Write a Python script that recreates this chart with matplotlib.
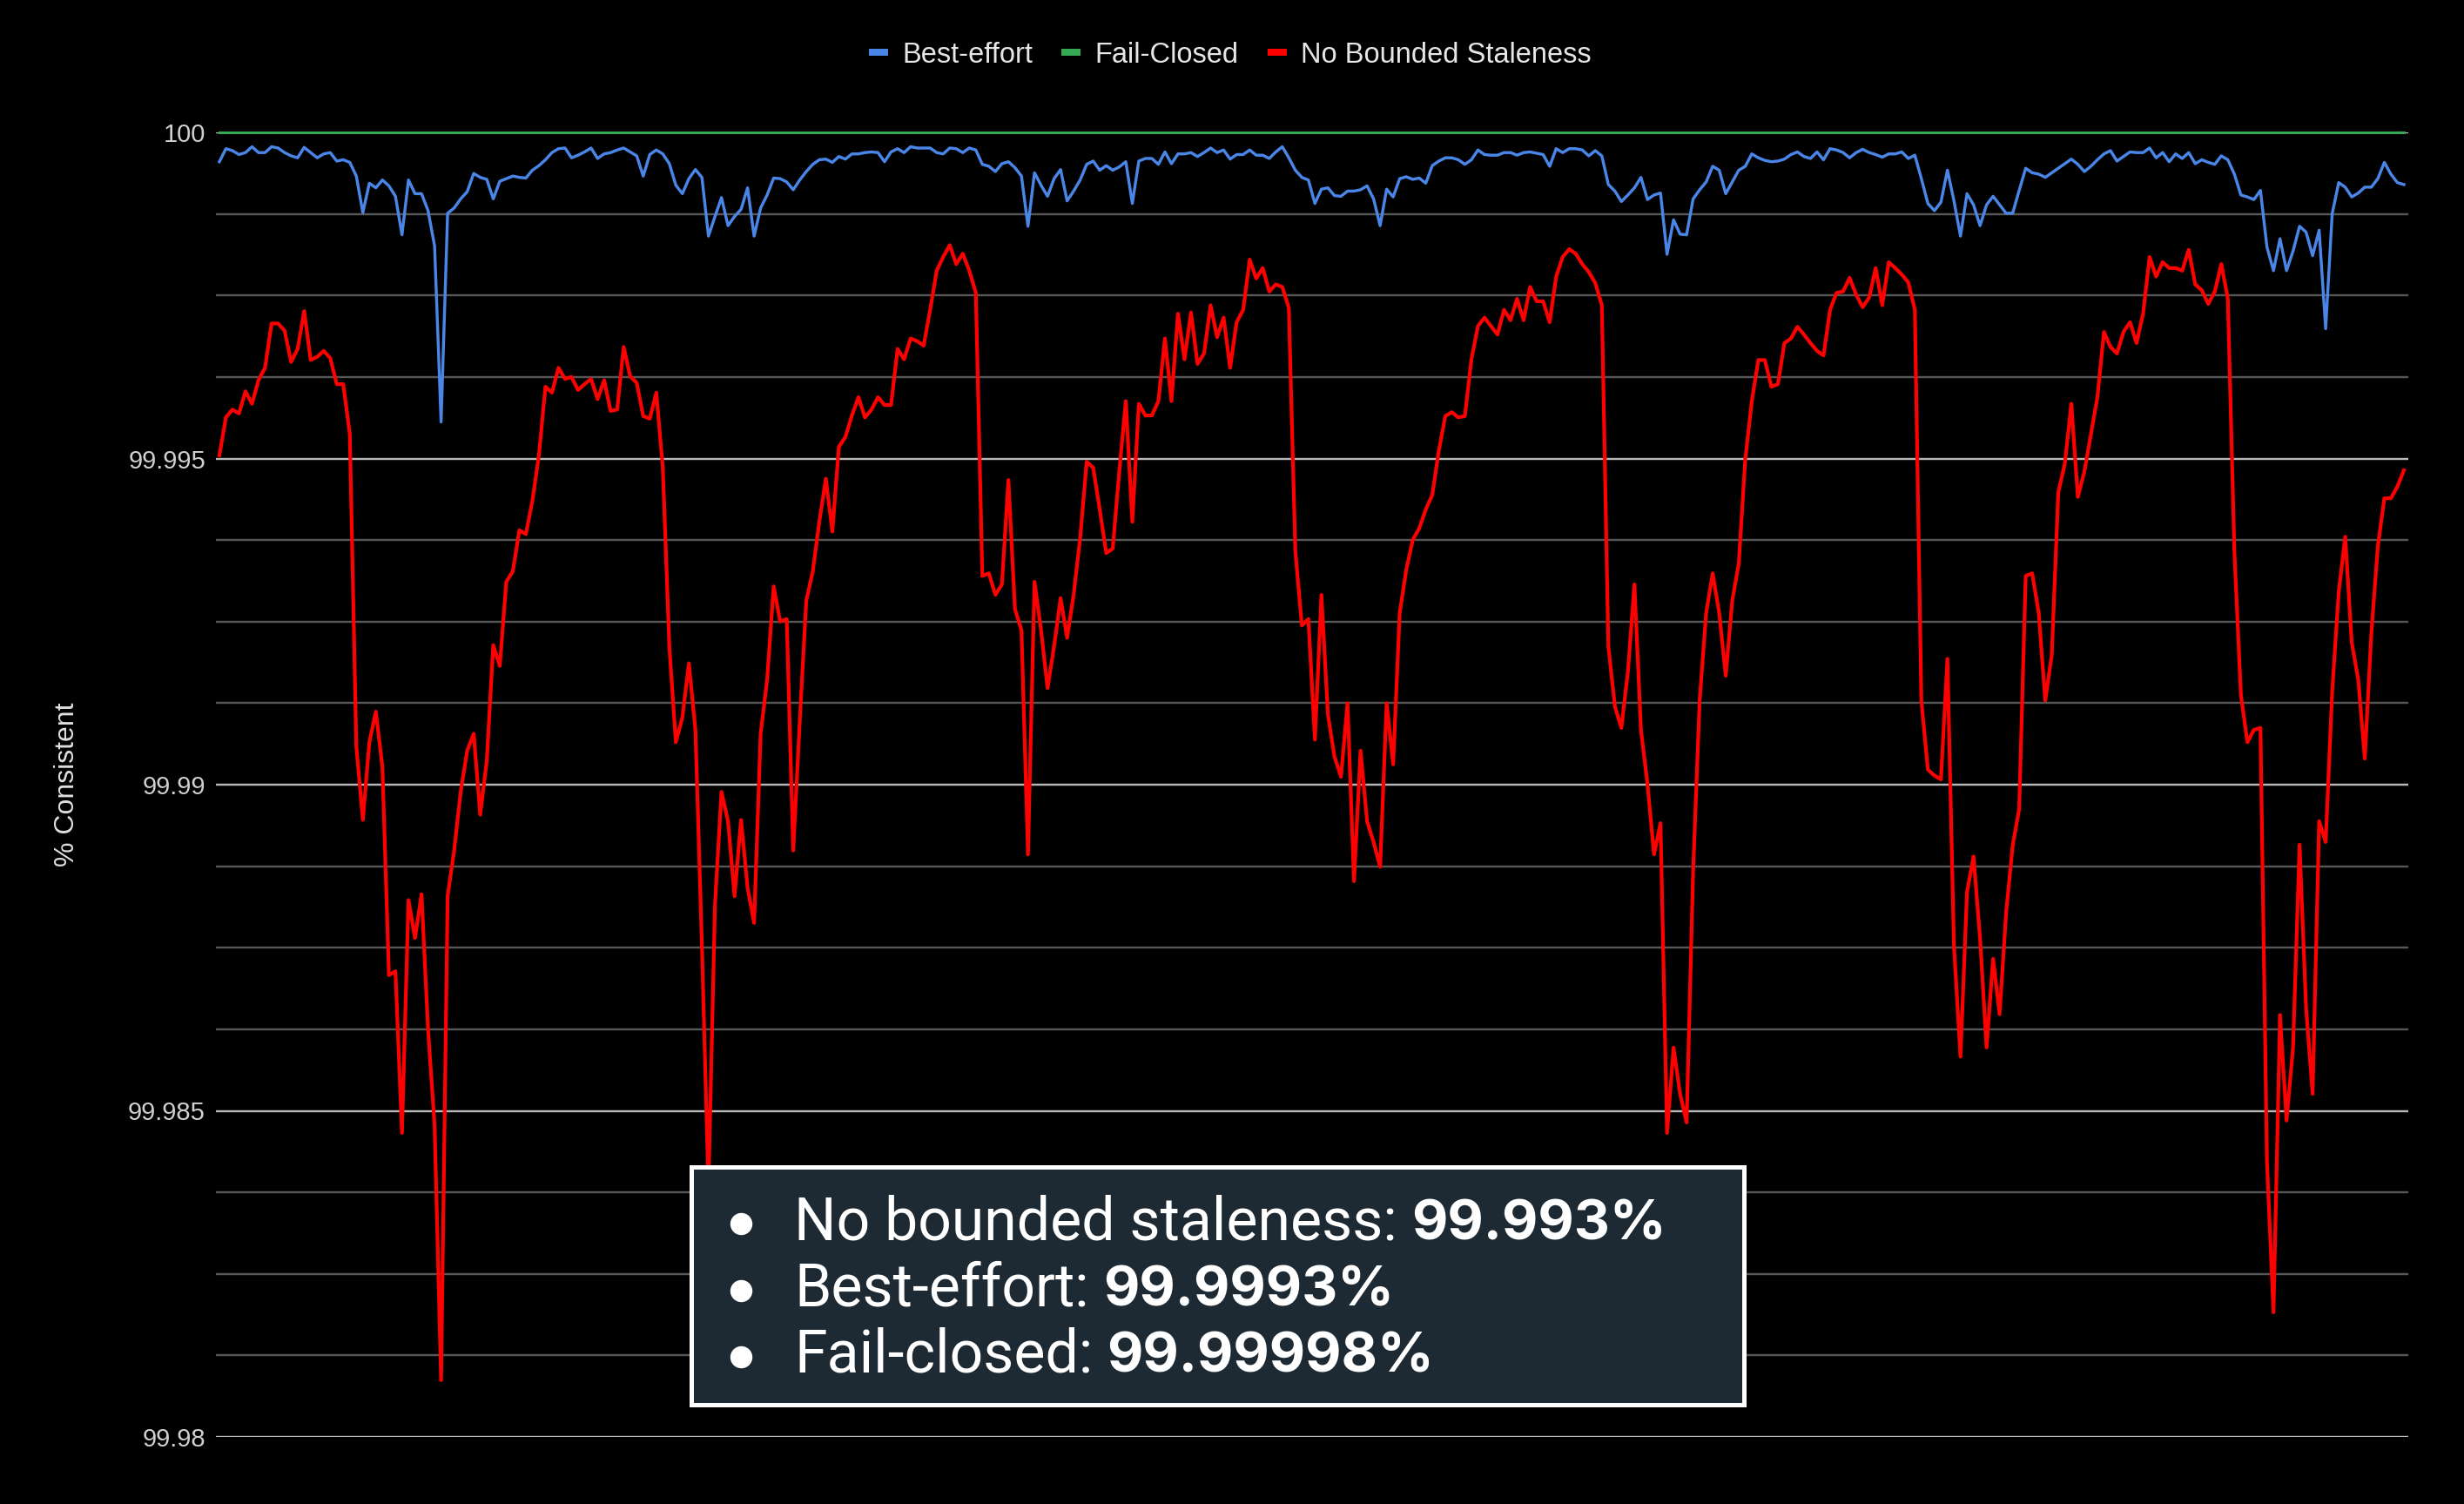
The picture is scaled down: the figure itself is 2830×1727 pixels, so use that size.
import matplotlib
matplotlib.use("Agg")
import matplotlib.pyplot as plt
from matplotlib.lines import Line2D
from matplotlib.patches import Rectangle
import numpy as np

# ---------------------------------------------------------------- data
series_names = ["Best-effort", "Fail-Closed", "No Bounded Staleness"]
series_colors = ["#4a86e8", "#34a853", "#ff0000"]

y_ticks = [99.98, 99.985, 99.99, 99.995, 100.0]
y_tick_labels = ["99.98", "99.985", "99.99", "99.995", "100"]

summary_labels = ["No bounded staleness: ", "Best-effort: ", "Fail-closed: "]
summary_values = ["99.993%", "99.9993%", "99.99998%"]

no_bounded_staleness = [
    99.99505, 99.99563, 99.99575, 99.99569, 99.99603, 99.99584, 99.99620, 99.99639, 99.99707, 99.99707, 99.99696, 99.99648,
    99.99668, 99.99726, 99.99651, 99.99656, 99.99665, 99.99654, 99.99614, 99.99614, 99.99537, 99.99059, 99.98946, 99.99065,
    99.99112, 99.99027, 99.98708, 99.98714, 99.98466, 99.98823, 99.98765, 99.98832, 99.98625, 99.98478, 99.98087, 99.98829,
    99.98899, 99.98989, 99.99052, 99.99078, 99.98954, 99.99036, 99.99214, 99.99182, 99.99311, 99.99327, 99.99390, 99.99384,
    99.99435, 99.99505, 99.99610, 99.99601, 99.99639, 99.99622, 99.99625, 99.99605, 99.99614, 99.99622, 99.99591, 99.99620,
    99.99573, 99.99575, 99.99671, 99.99626, 99.99616, 99.99565, 99.99561, 99.99601, 99.99486, 99.99212, 99.99065, 99.99103,
    99.99186, 99.99084, 99.98753, 99.98383, 99.98816, 99.98989, 99.98944, 99.98829, 99.98946, 99.98842, 99.98788, 99.99078,
    99.99161, 99.99304, 99.99250, 99.99254, 99.98899, 99.99097, 99.99282, 99.99327, 99.99403, 99.99469, 99.99388, 99.99518,
    99.99533, 99.99566, 99.99594, 99.99563, 99.99575, 99.99594, 99.99582, 99.99582, 99.99668, 99.99652, 99.99684, 99.99680,
    99.99673, 99.99728, 99.99788, 99.99809, 99.99827, 99.99798, 99.99814, 99.99788, 99.99754, 99.99320, 99.99324, 99.99291,
    99.99307, 99.99467, 99.99269, 99.99237, 99.98893, 99.99311, 99.99237, 99.99148, 99.99212, 99.99286, 99.99225, 99.99291,
    99.99378, 99.99495, 99.99486, 99.99422, 99.99355, 99.99362, 99.99480, 99.99588, 99.99403, 99.99584, 99.99566, 99.99566,
    99.99588, 99.99684, 99.99588, 99.99722, 99.99652, 99.99724, 99.99645, 99.99661, 99.99735, 99.99686, 99.99716, 99.99639,
    99.99709, 99.99728, 99.99805, 99.99776, 99.99792, 99.99756, 99.99767, 99.99763, 99.99731, 99.99358, 99.99244, 99.99254,
    99.99069, 99.99291, 99.99107, 99.99043, 99.99012, 99.99125, 99.98852, 99.99052, 99.98944, 99.98912, 99.98874, 99.99125,
    99.99031, 99.99263, 99.99329, 99.99375, 99.99393, 99.99422, 99.99444, 99.99512, 99.99565, 99.99571, 99.99563, 99.99565,
    99.99652, 99.99703, 99.99716, 99.99703, 99.99690, 99.99728, 99.99712, 99.99745, 99.99712, 99.99763, 99.99741, 99.99741,
    99.99709, 99.99779, 99.99809, 99.99821, 99.99814, 99.99798, 99.99786, 99.99769, 99.99735, 99.99212, 99.99120, 99.99087,
    99.99173, 99.99307, 99.99084, 99.99001, 99.98893, 99.98941, 99.98466, 99.98597, 99.98526, 99.98482, 99.98867, 99.99129,
    99.99263, 99.99324, 99.99263, 99.99167, 99.99282, 99.99339, 99.99499, 99.99588, 99.99651, 99.99651, 99.99610, 99.99614,
    99.99677, 99.99684, 99.99702, 99.99690, 99.99677, 99.99665, 99.99658, 99.99728, 99.99754, 99.99756, 99.99777, 99.99751,
    99.99732, 99.99747, 99.99792, 99.99735, 99.99801, 99.99792, 99.99782, 99.99770, 99.99728, 99.99129, 99.99023, 99.99014,
    99.99008, 99.99193, 99.98753, 99.98583, 99.98835, 99.98890, 99.98765, 99.98597, 99.98733, 99.98648, 99.98804, 99.98906,
    99.98963, 99.99320, 99.99324, 99.99263, 99.99129, 99.99199, 99.99448, 99.99492, 99.99584, 99.99441, 99.99480, 99.99537,
    99.99594, 99.99694, 99.99671, 99.99661, 99.99694, 99.99709, 99.99677, 99.99722, 99.99809, 99.99779, 99.99801, 99.99792,
    99.99792, 99.99788, 99.99820, 99.99767, 99.99758, 99.99737, 99.99756, 99.99798, 99.99745, 99.99358, 99.99138, 99.99065,
    99.99084, 99.99087, 99.98421, 99.98191, 99.98647, 99.98485, 99.98597, 99.98908, 99.98657, 99.98526, 99.98944, 99.98912,
    99.99142, 99.99295, 99.99380, 99.99218, 99.99161, 99.99040, 99.99231, 99.99365, 99.99439, 99.99439, 99.99457, 99.99482,
]

best_effort = [
    99.99955, 99.99975, 99.99972, 99.99966, 99.99969, 99.99978, 99.99969, 99.99969, 99.99978, 99.99976, 99.99969, 99.99964,
    99.99961, 99.99977, 99.99969, 99.99961, 99.99967, 99.99969, 99.99956, 99.99958, 99.99954, 99.99933, 99.99877, 99.99922,
    99.99915, 99.99927, 99.99918, 99.99902, 99.99843, 99.99927, 99.99906, 99.99906, 99.99880, 99.99826, 99.99556, 99.99876,
    99.99884, 99.99898, 99.99909, 99.99937, 99.99931, 99.99928, 99.99898, 99.99925, 99.99929, 99.99933, 99.99931, 99.99930,
    99.99942, 99.99949, 99.99958, 99.99969, 99.99975, 99.99976, 99.99961, 99.99965, 99.99970, 99.99976, 99.99960, 99.99967,
    99.99969, 99.99973, 99.99976, 99.99970, 99.99964, 99.99933, 99.99966, 99.99973, 99.99967, 99.99952, 99.99919, 99.99906,
    99.99929, 99.99943, 99.99931, 99.99841, 99.99871, 99.99900, 99.99857, 99.99871, 99.99882, 99.99915, 99.99841, 99.99884,
    99.99904, 99.99930, 99.99929, 99.99924, 99.99912, 99.99927, 99.99940, 99.99951, 99.99958, 99.99959, 99.99954, 99.99963,
    99.99959, 99.99967, 99.99967, 99.99969, 99.99970, 99.99969, 99.99955, 99.99970, 99.99975, 99.99969, 99.99978, 99.99976,
    99.99976, 99.99976, 99.99969, 99.99967, 99.99976, 99.99975, 99.99969, 99.99976, 99.99973, 99.99951, 99.99948, 99.99940,
    99.99952, 99.99955, 99.99946, 99.99933, 99.99856, 99.99938, 99.99919, 99.99902, 99.99929, 99.99943, 99.99895, 99.99910,
    99.99927, 99.99951, 99.99956, 99.99942, 99.99949, 99.99942, 99.99947, 99.99955, 99.99891, 99.99956, 99.99960, 99.99960,
    99.99951, 99.99970, 99.99952, 99.99967, 99.99967, 99.99969, 99.99963, 99.99969, 99.99976, 99.99969, 99.99973, 99.99959,
    99.99966, 99.99966, 99.99973, 99.99965, 99.99965, 99.99960, 99.99970, 99.99978, 99.99961, 99.99942, 99.99931, 99.99927,
    99.99891, 99.99913, 99.99915, 99.99903, 99.99902, 99.99910, 99.99910, 99.99912, 99.99918, 99.99898, 99.99857, 99.99913,
    99.99901, 99.99929, 99.99932, 99.99928, 99.99930, 99.99922, 99.99949, 99.99956, 99.99961, 99.99961, 99.99958, 99.99951,
    99.99958, 99.99973, 99.99966, 99.99965, 99.99965, 99.99969, 99.99969, 99.99965, 99.99969, 99.99970, 99.99968, 99.99966,
    99.99948, 99.99975, 99.99969, 99.99975, 99.99975, 99.99973, 99.99964, 99.99972, 99.99964, 99.99920, 99.99910, 99.99894,
    99.99904, 99.99915, 99.99931, 99.99897, 99.99904, 99.99907, 99.99813, 99.99866, 99.99844, 99.99843, 99.99898, 99.99912,
    99.99924, 99.99948, 99.99942, 99.99906, 99.99924, 99.99942, 99.99948, 99.99967, 99.99961, 99.99957, 99.99955, 99.99956,
    99.99959, 99.99966, 99.99970, 99.99963, 99.99960, 99.99970, 99.99958, 99.99975, 99.99973, 99.99969, 99.99961, 99.99969,
    99.99974, 99.99969, 99.99966, 99.99962, 99.99967, 99.99967, 99.99970, 99.99960, 99.99965, 99.99929, 99.99891, 99.99880,
    99.99893, 99.99942, 99.99895, 99.99841, 99.99906, 99.99889, 99.99857, 99.99889, 99.99902, 99.99889, 99.99876, 99.99876,
    99.99911, 99.99945, 99.99938, 99.99936, 99.99931, 99.99938, 99.99945, 99.99952, 99.99959, 99.99951, 99.99940, 99.99948,
    99.99958, 99.99967, 99.99972, 99.99956, 99.99963, 99.99970, 99.99969, 99.99969, 99.99976, 99.99961, 99.99969, 99.99955,
    99.99967, 99.99960, 99.99969, 99.99952, 99.99958, 99.99954, 99.99951, 99.99964, 99.99958, 99.99936, 99.99904, 99.99901,
    99.99897, 99.99911, 99.99824, 99.99788, 99.99837, 99.99788, 99.99818, 99.99856, 99.99847, 99.99811, 99.99850, 99.99699,
    99.99875, 99.99923, 99.99916, 99.99901, 99.99907, 99.99916, 99.99916, 99.99929, 99.99954, 99.99936, 99.99923, 99.99920,
]

fail_closed = [
    100.0, 100.0, 100.0, 100.0, 100.0, 100.0, 100.0, 100.0, 100.0, 100.0, 100.0, 100.0,
    100.0, 100.0, 100.0, 100.0, 100.0, 100.0, 100.0, 100.0, 100.0, 100.0, 100.0, 100.0,
    100.0, 100.0, 100.0, 100.0, 100.0, 100.0, 100.0, 100.0, 100.0, 100.0, 100.0, 100.0,
    100.0, 100.0, 100.0, 100.0, 100.0, 100.0, 100.0, 100.0, 100.0, 100.0, 100.0, 100.0,
    100.0, 100.0, 100.0, 100.0, 100.0, 100.0, 100.0, 100.0, 100.0, 100.0, 100.0, 100.0,
    100.0, 100.0, 100.0, 100.0, 100.0, 100.0, 100.0, 100.0, 100.0, 100.0, 100.0, 100.0,
    100.0, 100.0, 100.0, 100.0, 100.0, 100.0, 100.0, 100.0, 100.0, 100.0, 100.0, 100.0,
    100.0, 100.0, 100.0, 100.0, 100.0, 100.0, 100.0, 100.0, 100.0, 100.0, 100.0, 100.0,
    100.0, 100.0, 100.0, 100.0, 100.0, 100.0, 100.0, 100.0, 100.0, 100.0, 100.0, 100.0,
    100.0, 100.0, 100.0, 100.0, 100.0, 100.0, 100.0, 100.0, 100.0, 100.0, 100.0, 100.0,
    100.0, 100.0, 100.0, 100.0, 100.0, 100.0, 100.0, 100.0, 100.0, 100.0, 100.0, 100.0,
    100.0, 100.0, 100.0, 100.0, 100.0, 100.0, 100.0, 100.0, 100.0, 100.0, 100.0, 100.0,
    100.0, 100.0, 100.0, 100.0, 100.0, 100.0, 100.0, 100.0, 100.0, 100.0, 100.0, 100.0,
    100.0, 100.0, 100.0, 100.0, 100.0, 100.0, 100.0, 100.0, 100.0, 100.0, 100.0, 100.0,
    100.0, 100.0, 100.0, 100.0, 100.0, 100.0, 100.0, 100.0, 100.0, 100.0, 100.0, 100.0,
    100.0, 100.0, 100.0, 100.0, 100.0, 100.0, 100.0, 100.0, 100.0, 100.0, 100.0, 100.0,
    100.0, 100.0, 100.0, 100.0, 100.0, 100.0, 100.0, 100.0, 100.0, 100.0, 100.0, 100.0,
    100.0, 100.0, 100.0, 100.0, 100.0, 100.0, 100.0, 100.0, 100.0, 100.0, 100.0, 100.0,
    100.0, 100.0, 100.0, 100.0, 100.0, 100.0, 100.0, 100.0, 100.0, 100.0, 100.0, 100.0,
    100.0, 100.0, 100.0, 100.0, 100.0, 100.0, 100.0, 100.0, 100.0, 100.0, 100.0, 100.0,
    100.0, 100.0, 100.0, 100.0, 100.0, 100.0, 100.0, 100.0, 100.0, 100.0, 100.0, 100.0,
    100.0, 100.0, 100.0, 100.0, 100.0, 100.0, 100.0, 100.0, 100.0, 100.0, 100.0, 100.0,
    100.0, 100.0, 100.0, 100.0, 100.0, 100.0, 100.0, 100.0, 100.0, 100.0, 100.0, 100.0,
    100.0, 100.0, 100.0, 100.0, 100.0, 100.0, 100.0, 100.0, 100.0, 100.0, 100.0, 100.0,
    100.0, 100.0, 100.0, 100.0, 100.0, 100.0, 100.0, 100.0, 100.0, 100.0, 100.0, 100.0,
    100.0, 100.0, 100.0, 100.0, 100.0, 100.0, 100.0, 100.0, 100.0, 100.0, 100.0, 100.0,
    100.0, 100.0, 100.0, 100.0, 100.0, 100.0, 100.0, 100.0, 100.0, 100.0, 100.0, 100.0,
    100.0, 100.0, 100.0, 100.0, 100.0, 100.0, 100.0, 100.0, 100.0, 100.0, 100.0, 100.0,
]

# ---------------------------------------------------------------- figure
W, H = 2830, 1727
DPI = 100
PX = 72.0 / DPI  # points per pixel

fig = plt.figure(figsize=(W / DPI, H / DPI), dpi=DPI, facecolor="black")

ax_left, ax_right, ax_top, ax_bottom = 248, 2766, 152, 1650
ax = fig.add_axes([ax_left / W, 1 - ax_bottom / H,
                   (ax_right - ax_left) / W, (ax_bottom - ax_top) / H])
ax.set_facecolor("black")

x = np.arange(len(no_bounded_staleness))
for values, name, color, lw, z in [
    (best_effort, series_names[0], series_colors[0], 3.4, 3),
    (fail_closed, series_names[1], series_colors[1], 3.0, 3),
    (no_bounded_staleness, series_names[2], series_colors[2], 4.2, 4),
]:
    ax.plot(x, values, color=color, lw=lw * PX, label=name,
            clip_on=False, zorder=z, solid_joinstyle="round")

ax.set_xlim(-0.53, len(x) - 1 + 0.67)
ax.set_ylim(y_ticks[0], y_ticks[-1])

minor_ticks = [99.98 + k * 0.00125 for k in range(17) if k % 4]
ax.set_yticks(y_ticks)
ax.set_yticklabels(y_tick_labels)
ax.set_yticks(minor_ticks, minor=True)
ax.set_xticks([])

ax.grid(which="major", axis="y", color="#b8b8b8", lw=2.4 * PX)
ax.grid(which="minor", axis="y", color="#575757", lw=2.4 * PX)
ax.set_axisbelow(True)
for s in ax.spines.values():
    s.set_visible(False)

tick_font = "Liberation Sans"
ax.tick_params(axis="y", which="both", length=0, pad=12 * PX,
               labelsize=21, labelcolor="#d0d0d0")
for lab in ax.get_yticklabels():
    lab.set_fontfamily(tick_font)

fig.text(77 / W, 1 - 901 / H, "% Consistent", rotation=90,
         ha="center", va="center", fontsize=23, color="#e0e0e0",
         family=tick_font)

# legend across the top
handles = [Line2D([], [], color=c, lw=8 * PX, solid_capstyle="butt")
           for c in series_colors]
fig.legend(handles, series_names, loc="center",
           bbox_to_anchor=(1413 / W, 1 - 63 / H), ncol=3, frameon=False,
           prop={"family": tick_font, "size": 23.5}, labelcolor="#e6e6e6",
           handlelength=0.68, handletextpad=0.5, columnspacing=1.0)

# ---------------------------------------------------------------- summary box
box_l, box_r, box_t, box_b = 794, 2003, 1340, 1613
fig.add_artist(Rectangle((box_l / W, 1 - box_b / H), (box_r - box_l) / W,
                         (box_b - box_t) / H, transform=fig.transFigure,
                         facecolor="#1e2a33", edgecolor="white",
                         lw=5 * PX, zorder=10))

box_font = ["Roboto", "DejaVu Sans"]
value_font = ["Inter", "Roboto", "DejaVu Sans"]
box_size = 49
value_size = 46
baselines = [1423, 1500, 1576]
text_x = 912
fig.canvas.draw()
renderer = fig.canvas.get_renderer()
for label, value, base in zip(summary_labels, summary_values, baselines):
    fig.add_artist(Line2D([851 / W], [1 - (base - 18) / H], marker="o",
                          ms=24 * PX, color="white", mec="white",
                          transform=fig.transFigure, zorder=11))
    t = fig.text(text_x / W, 1 - base / H, label.rstrip(), ha="left",
                 va="baseline", fontsize=box_size, color="white",
                 family=box_font, zorder=11)
    bb = t.get_window_extent(renderer)
    gap = 16
    fig.text((bb.x1 + gap) / W, 1 - base / H, value, ha="left",
             va="baseline", fontsize=value_size, color="white",
             family=value_font, fontweight="bold", zorder=11)

fig.savefig("out.png", dpi=DPI, facecolor="black")
